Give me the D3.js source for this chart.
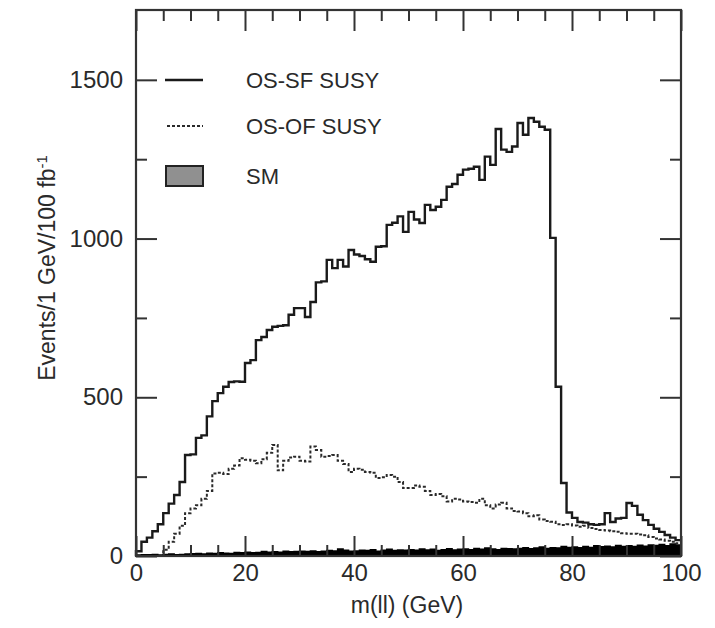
<!DOCTYPE html>
<html lang="en">
<head>
<meta charset="utf-8">
<title>m(ll) distribution</title>
<script src="https://cdn.jsdelivr.net/npm/d3@7"></script>
<style>
  body { margin: 0; background: #fff; }
  text { font-family: "Liberation Sans", Arial, sans-serif; fill: #2a2a2a; }
</style>
</head>
<body>
<script>
// bin lower edges, 1 GeV bins from 0 to 100
var binEdges = d3.range(0, 100);

// OS-SF SUSY
var sfValues = [
  15, 45, 58, 78, 100, 135, 165, 192, 233, 318,
  320, 372, 380, 440, 488, 513, 533, 548, 550, 549,
  608, 617, 680, 690, 712, 722, 725, 727, 760, 781,
  781, 753, 800, 862, 865, 933, 907, 933, 912, 964,
  950, 945, 935, 927, 974, 976, 1043, 1050, 1070, 1021,
  1084, 1060, 1049, 1106, 1090, 1100, 1122, 1163, 1172, 1201,
  1217, 1220, 1226, 1185, 1258, 1232, 1345, 1280, 1273, 1290,
  1364, 1327, 1380, 1368, 1352, 1343, 1002, 533, 230, 137,
  120, 107, 105, 100, 98, 100, 135, 107, 118, 120,
  167, 158, 130, 113, 98, 86, 76, 66, 58, 50
];

// OS-OF SUSY
var ofValues = [
  0, 0, 0, 0, 0, 20, 45, 70, 95, 135,
  150, 160, 180, 205, 260, 262, 258, 275, 285, 308,
  303, 300, 292, 305, 325, 350, 270, 300, 310, 313,
  300, 298, 345, 334, 313, 315, 318, 300, 290, 265,
  275, 272, 265, 262, 246, 248, 255, 250, 233, 214,
  214, 222, 218, 205, 192, 195, 188, 172, 180, 178,
  172, 170, 168, 180, 160, 150, 162, 168, 150, 142,
  140, 135, 125, 128, 115, 110, 108, 100, 98, 100,
  96, 92, 95, 88, 85, 82, 80, 78, 76, 72,
  70, 70, 68, 65, 60, 55, 52, 48, 45, 40
];

// SM background
var smValues = [
  3, 4, 4, 5, 3, 5, 6, 4, 5, 6,
  7, 8, 6, 9, 8, 10, 9, 8, 11, 10,
  12, 10, 11, 14, 12, 13, 12, 15, 13, 14,
  15, 14, 16, 13, 15, 17, 16, 22, 18, 15,
  16, 18, 17, 20, 15, 18, 21, 17, 19, 18,
  20, 18, 22, 19, 21, 17, 20, 23, 19, 21,
  22, 20, 24, 21, 25, 22, 20, 24, 23, 22,
  24, 26, 23, 25, 28, 24, 26, 25, 30, 27,
  28, 26, 30, 27, 32, 29, 31, 28, 33, 30,
  32, 30, 34, 31, 35, 33, 36, 32, 38, 35
];

var xMajor = [0, 20, 40, 60, 80, 100];
var xMinor = [5, 10, 15, 25, 30, 35, 45, 50, 55, 65, 70, 75, 85, 90, 95];
var yMajor = [0, 500, 1000, 1500];
var yMinor = [250, 750, 1250];

var legendLabels = ['OS-SF SUSY', 'OS-OF SUSY', 'SM'];

var w = 715, h = 628;
var mLeft = 136, mRight = 681, mTop = 10, mBottom = 556;

var svg = d3.select('body').append('svg')
  .attr('width', w)
  .attr('height', h);

var x = d3.scaleLinear().domain([0, 100]).range([mLeft, mRight]);
var y = d3.scaleLinear().domain([0, 1720]).range([mBottom, mTop]);

// step points: each bin value at its lower edge, closing at 100
function steps(vals) {
  var pts = binEdges.map(function(e, i) { return [e, vals[i]]; });
  pts.push([100, vals[vals.length - 1]]);
  return pts;
}

var line = d3.line()
  .x(function(d) { return x(d[0]); })
  .y(function(d) { return y(d[1]); })
  .curve(d3.curveStepAfter);

var area = d3.area()
  .x(function(d) { return x(d[0]); })
  .y0(y(0))
  .y1(function(d) { return y(d[1]); })
  .curve(d3.curveStepAfter);

// SM filled
svg.append('path')
  .datum(steps(smValues))
  .attr('d', area)
  .attr('fill', '#000')
  .attr('stroke', '#000')
  .attr('stroke-width', 1.5);

// OF dashed
svg.append('path')
  .datum(steps(ofValues))
  .attr('d', line)
  .attr('fill', 'none')
  .attr('stroke', '#2a2a2a')
  .attr('stroke-width', 2)
  .attr('stroke-dasharray', '3,2');

// SF solid
var sfPts = [[0, 0]].concat(steps(sfValues));
svg.append('path')
  .datum(sfPts)
  .attr('d', line)
  .attr('fill', 'none')
  .attr('stroke', '#1a1a1a')
  .attr('stroke-width', 2.4);

// axes, ticks inward
function styleAxis(g) {
  g.select('.domain').remove();
  g.selectAll('.tick line').attr('stroke', '#333').attr('stroke-width', 2);
  g.selectAll('.tick text')
    .attr('font-size', '24px')
    .attr('font-family', '"Liberation Sans", Arial, sans-serif')
    .attr('fill', '#2a2a2a');
}

svg.append('g')
  .attr('transform', 'translate(0,' + mBottom + ')')
  .call(d3.axisBottom(x).tickValues(xMajor).tickSize(-20).tickPadding(8).tickFormat(d3.format('d')))
  .call(styleAxis);
svg.append('g')
  .attr('transform', 'translate(0,' + mBottom + ')')
  .call(d3.axisBottom(x).tickValues(xMinor).tickSize(-11).tickFormat(''))
  .call(styleAxis);
svg.append('g')
  .attr('transform', 'translate(0,' + mTop + ')')
  .call(d3.axisTop(x).tickValues(xMajor).tickSize(-21).tickFormat(''))
  .call(styleAxis);
svg.append('g')
  .attr('transform', 'translate(0,' + mTop + ')')
  .call(d3.axisTop(x).tickValues(xMinor).tickSize(-11).tickFormat(''))
  .call(styleAxis);

svg.append('g')
  .attr('transform', 'translate(' + mLeft + ',0)')
  .call(d3.axisLeft(y).tickValues(yMajor).tickSize(-21).tickPadding(13).tickFormat(d3.format('d')))
  .call(styleAxis);
svg.append('g')
  .attr('transform', 'translate(' + mLeft + ',0)')
  .call(d3.axisLeft(y).tickValues(yMinor).tickSize(-11).tickFormat(''))
  .call(styleAxis);
svg.append('g')
  .attr('transform', 'translate(' + mRight + ',0)')
  .call(d3.axisRight(y).tickValues(yMajor).tickSize(-21).tickFormat(''))
  .call(styleAxis);
svg.append('g')
  .attr('transform', 'translate(' + mRight + ',0)')
  .call(d3.axisRight(y).tickValues(yMinor).tickSize(-11).tickFormat(''))
  .call(styleAxis);

// frame
svg.append('rect')
  .attr('x', mLeft)
  .attr('y', mTop)
  .attr('width', mRight - mLeft)
  .attr('height', mBottom - mTop)
  .attr('fill', 'none')
  .attr('stroke', '#333')
  .attr('stroke-width', 2.2);

// legend
var legY = [80, 126, 176];
svg.append('line')
  .attr('x1', 165).attr('x2', 203)
  .attr('y1', legY[0]).attr('y2', legY[0])
  .attr('stroke', '#1a1a1a').attr('stroke-width', 2.4);
svg.append('line')
  .attr('x1', 167).attr('x2', 203)
  .attr('y1', legY[1]).attr('y2', legY[1])
  .attr('stroke', '#2a2a2a').attr('stroke-width', 2)
  .attr('stroke-dasharray', '3,2');
svg.append('rect')
  .attr('x', 166).attr('y', legY[2] - 10)
  .attr('width', 37).attr('height', 20)
  .attr('fill', '#909090')
  .attr('stroke', '#222').attr('stroke-width', 2);

svg.selectAll('.legtext')
  .data(legendLabels)
  .enter()
  .append('text')
  .attr('class', 'legtext')
  .attr('x', 246)
  .attr('y', function(d, i) { return legY[i]; })
  .attr('dy', '0.36em')
  .attr('font-size', '22px')
  .text(function(d) { return d; });

// axis titles
svg.append('text')
  .attr('x', 407)
  .attr('y', 613)
  .attr('text-anchor', 'middle')
  .attr('font-size', '23px')
  .text('m(ll) (GeV)');

var yt = svg.append('text')
  .attr('transform', 'translate(55,268) rotate(-90)')
  .attr('text-anchor', 'middle')
  .attr('font-size', '23px');
yt.append('tspan').text('Events/1 GeV/100 fb');
yt.append('tspan')
  .attr('baseline-shift', 'super')
  .attr('font-size', '15px')
  .text('-1');
</script>
</body>
</html>
